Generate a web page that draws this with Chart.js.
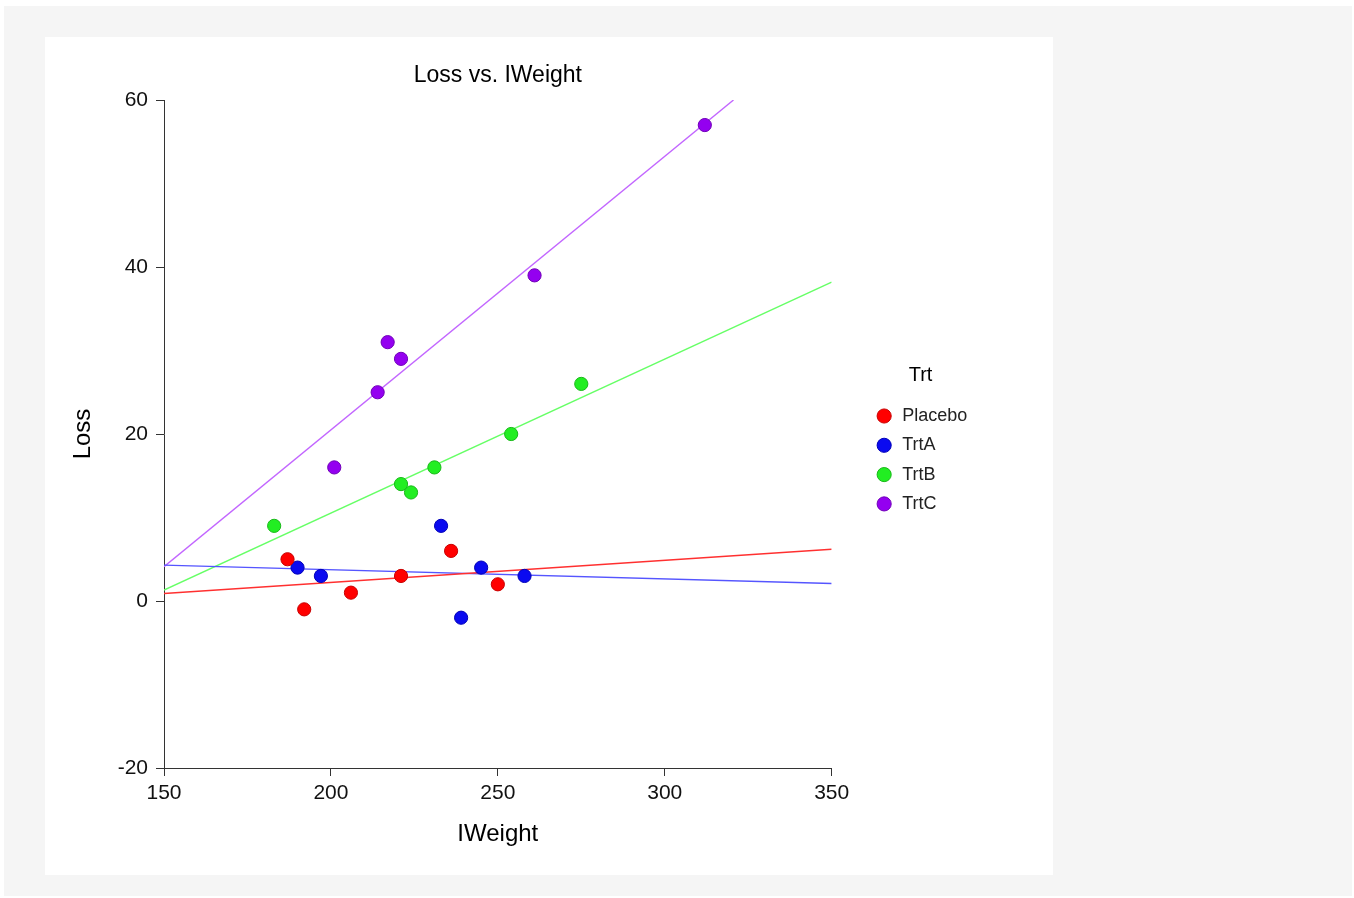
<!DOCTYPE html>
<html>
<head>
<meta charset="utf-8">
<title>Loss vs. IWeight</title>
<script src="https://cdn.jsdelivr.net/npm/chart.js@4.4.1/dist/chart.umd.min.js"></script>
<style>
  html, body { margin: 0; padding: 0; background: #ffffff; }
  #frame {
    position: absolute; left: 4px; top: 6px; width: 1348px; height: 890px;
    background: #f5f5f5;
  }
  #panel {
    position: absolute; left: 45px; top: 37px; width: 1008px; height: 838px;
    background: #ffffff;
  }
  canvas { display: block; }
</style>
</head>
<body>
<div id="frame"></div>
<div id="panel"><canvas id="chart" width="1008" height="838"></canvas></div>
<script>
// Initial weight (IWeight) and weight loss for each treatment group
const placeboWeight = [187, 192, 206, 221, 236, 250];
const placeboLoss   = [5, -1, 1, 3, 6, 2];
const trtAWeight    = [190, 197, 233, 239, 245, 258];
const trtALoss      = [4, 3, 9, -2, 4, 3];
const trtBWeight    = [183, 221, 224, 231, 254, 275];
const trtBLoss      = [9, 14, 13, 16, 20, 26];
const trtCWeight    = [201, 214, 217, 221, 261, 312];
const trtCLoss      = [16, 25, 31, 29, 39, 57];

// Fitted least-squares line for each group: [IWeight, Loss] at both ends
const placeboFit = [[150, 0.9], [350, 6.2]];
const trtAFit    = [[150, 4.3], [350, 2.1]];
const trtBFit    = [[150, 1.3], [350, 38.2]];
const trtCFit    = [[150, 4.1], [320.6, 60]];

// Axis ticks
const xTicks = [150, 200, 250, 300, 350];
const yTicks = [-20, 0, 20, 40, 60];

const groups = ['Placebo', 'TrtA', 'TrtB', 'TrtC'];
const fills   = ['#ff0000', '#0a0af0', '#22ee22', '#9400f0'];
const edges   = ['#c80000', '#0000b8', '#18b818', '#7000b8'];
const lineCol = ['#ff3030', '#5555ff', '#66ff66', '#c266ff'];

const weights = [placeboWeight, trtAWeight, trtBWeight, trtCWeight];
const losses  = [placeboLoss, trtALoss, trtBLoss, trtCLoss];
const fits    = [placeboFit, trtAFit, trtBFit, trtCFit];

const pointSets = groups.map((g, i) => ({
  type: 'scatter',
  label: g,
  data: weights[i].map((w, k) => ({ x: w, y: losses[i][k] })),
  backgroundColor: fills[i],
  borderColor: edges[i],
  borderWidth: 1,
  pointRadius: 6.6,
  pointHoverRadius: 6.6,
  order: 1
}));

const lineSets = groups.map((g, i) => ({
  type: 'line',
  label: g + ' fit',
  data: fits[i].map(p => ({ x: p[0], y: p[1] })),
  borderColor: lineCol[i],
  borderWidth: 1.4,
  pointRadius: 0,
  fill: false,
  tension: 0,
  order: 2
}));

Chart.defaults.font.family = "'Liberation Sans', Arial, sans-serif";
Chart.defaults.color = '#111111';

new Chart(document.getElementById('chart'), {
  type: 'scatter',
  data: { datasets: [...pointSets, ...lineSets] },
  options: {
    responsive: false,
    animation: false,
    devicePixelRatio: 1,
    layout: { padding: { left: 10, right: 75.8, top: 0, bottom: 0 } },
    plugins: {
      title: {
        display: true,
        text: 'Loss vs. IWeight',
        fullSize: false,
        color: '#000000',
        font: { size: 23, weight: 'normal' },
        padding: { top: 25.2, bottom: 10.2 }
      },
      legend: {
        display: true,
        position: 'right',
        align: 'start',
        title: {
          display: true,
          text: 'Trt',
          color: '#000000',
          font: { size: 20 },
          padding: { top: 328, bottom: 6.7 }
        },
        labels: {
          usePointStyle: true,
          pointStyle: 'circle',
          boxHeight: 10,
          boxWidth: 18,
          padding: 11.3,
          color: '#222222',
          font: { size: 18 },
          filter: item => groups.includes(item.text)
        }
      },
      tooltip: { enabled: false }
    },
    scales: {
      x: {
        type: 'linear',
        position: 'bottom',
        min: xTicks[0],
        max: xTicks[xTicks.length - 1],
        afterBuildTicks: s => { s.ticks = xTicks.map(v => ({ value: v })); },
        afterFit: s => { s.height = 107; },
        grid: { display: true, drawOnChartArea: false, drawTicks: true, tickLength: 8, color: '#333333', lineWidth: 1 },
        border: { display: true, color: '#333333', width: 1 },
        ticks: { padding: 5, color: '#111111', font: { size: 21 }, maxRotation: 0 },
        title: { display: true, text: 'IWeight', color: '#000000', font: { size: 24 }, padding: { top: 0, bottom: 26.6 } }
      },
      y: {
        type: 'linear',
        position: 'left',
        min: yTicks[0],
        max: yTicks[yTicks.length - 1],
        afterBuildTicks: s => { s.ticks = yTicks.map(v => ({ value: v })); },
        afterFit: s => { s.width = 109; },
        grid: { display: true, drawOnChartArea: false, drawTicks: true, tickLength: 8, color: '#333333', lineWidth: 1 },
        border: { display: true, color: '#333333', width: 1 },
        ticks: { padding: 8, color: '#111111', font: { size: 21 } },
        title: { display: true, text: 'Loss', color: '#000000', font: { size: 24 }, padding: { top: 13.6, bottom: 0 } }
      },
      // empty spacer axis keeping the legend clear of the plot
      gap: {
        type: 'linear',
        position: 'right',
        display: true,
        afterFit: s => { s.width = 32.2; },
        grid: { display: false, drawTicks: false },
        border: { display: false },
        ticks: { display: false }
      }
    }
  }
});
</script>
</body>
</html>
